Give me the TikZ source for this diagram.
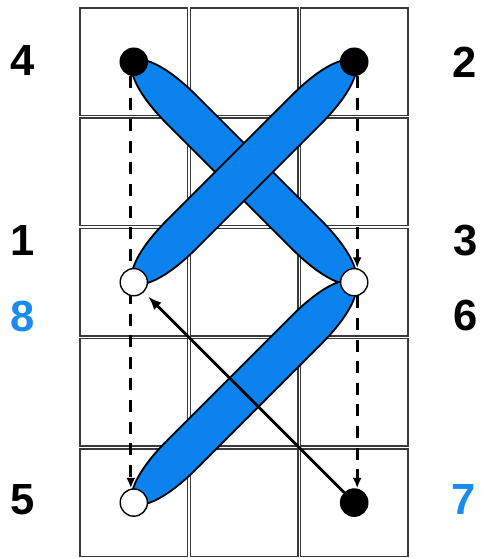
\documentclass[tikz,border=0pt]{standalone}
\usepackage{fontspec}
\setmainfont{Liberation Sans}
\usepackage{xcolor}
\usepackage{tikz}
\usetikzlibrary{arrows.meta,backgrounds}
\definecolor{StitchBlue}{HTML}{0C82EE}
\definecolor{StitchLabelBlue}{HTML}{1A8CEE}
\definecolor{StitchGrid}{HTML}{3A3A3A}
\tikzset{
  gridcell/.style={draw=StitchGrid,line width=1pt,fill=white},
  holein/.style={circle,draw=black,fill=white,minimum size=6.8mm,
    inner sep=0pt,line width=1pt},
  holeout/.style={holein,fill=black},
  stitch/.style={draw=black,fill=StitchBlue,line width=1.3pt},
  backarrow/.style={-{Latex[length=2.6mm,width=2.2mm]},line width=2.4pt,
    dash pattern=on 3mm off 2.4mm},
  moveline/.style={-{Latex[length=3.4mm,width=2.6mm]},line width=2pt},
  numlabel/.style={font=\fontsize{31}{33}\selectfont\bfseries},
  pics/stitchbar/.style={code={
    \draw[stitch] (0,0) .. controls (0.02,0.25) and (0.6,0.51) .. (1.7,0.51)
      -- (6.09,0.51) .. controls (7.19,0.51) and (7.77,0.25) .. (7.79,0)
      .. controls (7.77,-0.25) and (7.19,-0.51) .. (6.09,-0.51)
      -- (1.7,-0.51) .. controls (0.6,-0.51) and (0.02,-0.25) .. (0,0) -- cycle;
  }}
}

\begin{document}
\begin{tikzpicture}[x=1cm,y=1cm]
  \path[use as bounding box] (0,0) rectangle (12,13.95);

  % needle holes
  \node[holeout] (n4) at (3.345,12.405) {};
  \node[holeout] (n2) at (8.855,12.405) {};
  \node[holein] (n18) at (3.345,6.895) {};
  \node[holein] (n36) at (8.855,6.895) {};
  \node[holein] (n5) at (3.345,1.385) {};
  \node[holeout] (n7) at (8.855,1.385) {};

  \begin{scope}[on background layer]
    \foreach \col in {0,1,2}
      \foreach \row in {0,...,4}
        \draw[gridcell] ({2.0+\col*2.755},{13.75-\row*2.755}) rectangle ++(2.69,-2.69);

    \draw[backarrow] ([xshift=-0.75mm]n4.south) -- ([xshift=-0.75mm]n5.north);
    \draw[backarrow] ([xshift=0.75mm]n2.south) -- ([xshift=0.75mm]n36.north);
    \draw[backarrow] ([xshift=0.75mm]n36.south) -- ([xshift=0.75mm]n7.north);

    \pic[rotate=-45] at (n4.center) {stitchbar};
    \pic[rotate=-135] at (n2.center) {stitchbar};
    \pic[rotate=-135] at (n36.center) {stitchbar};
  \end{scope}

  \draw[moveline,shorten >=1.5mm] (n7) -- (n18);

  % hole numbers
  \node[numlabel] (l4) at (0.575,12.425) {4};
  \node[numlabel] (l2) at (11.625,12.4) {2};
  \node[numlabel] (l1) at (0.575,7.925) {1};
  \node[numlabel] (l3) at (11.65,7.925) {3};
  \node[numlabel,text=StitchLabelBlue] (l8) at (0.575,6.025) {8};
  \node[numlabel] (l6) at (11.65,6.05) {6};
  \node[numlabel] (l5) at (0.5625,1.45) {5};
  \node[numlabel,text=StitchLabelBlue] (l7) at (11.6,1.45) {7};
\end{tikzpicture}
\end{document}
